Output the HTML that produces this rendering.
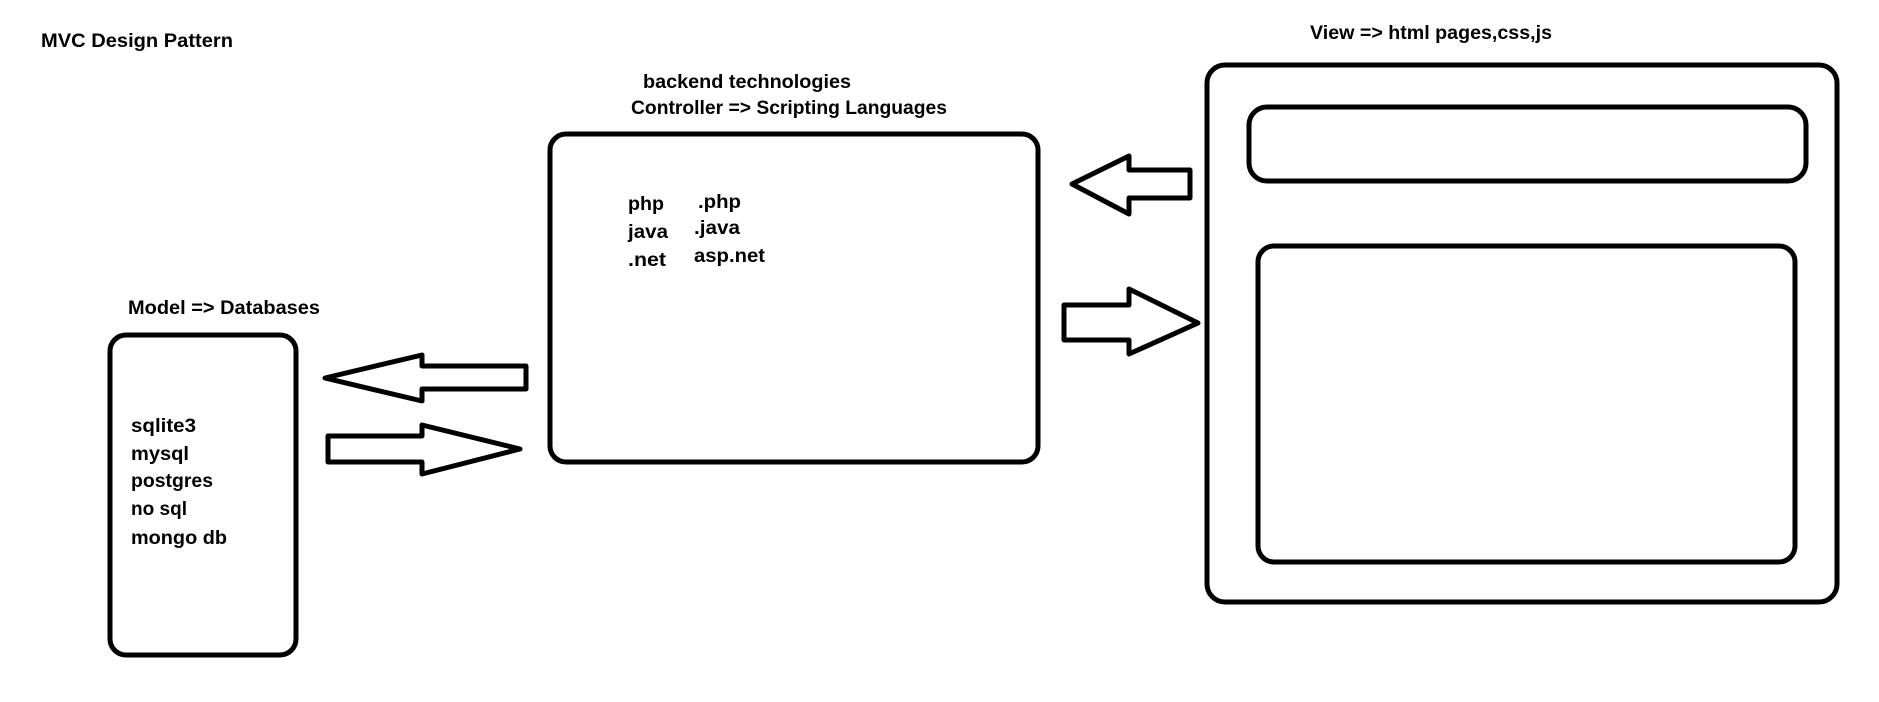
<!DOCTYPE html>
<html><head><meta charset="utf-8"><style>html,body{margin:0;padding:0;background:#fff}svg{display:block}</style></head>
<body>
<svg width="1879" height="702" viewBox="0 0 1879 702" xmlns="http://www.w3.org/2000/svg" font-family="Liberation Sans, sans-serif" font-weight="bold" font-size="19" fill="#000">
<g fill="none" stroke="#000" stroke-width="5" stroke-linejoin="round">
<rect x="1207" y="65" width="630" height="537" rx="18"/>
<rect x="1249" y="107" width="557" height="74" rx="18"/>
<rect x="1258" y="246" width="537" height="316" rx="16"/>
<rect x="550" y="134" width="488" height="328" rx="16"/>
<rect x="110" y="335" width="186" height="320" rx="16"/>
<polygon points="325,378 422,355 422,366 526,366 526,389 422,389 422,401"/>
<polygon points="328,436 422,436 422,425 520,449 422,474 422,462 328,462"/>
<polygon points="1072,184 1129,156 1129,170 1190,170 1190,198 1129,198 1129,214"/>
<polygon points="1064,305 1129,305 1129,289 1198,323 1129,354 1129,340 1064,340"/>
</g>
<text x="41" y="47" textLength="192" lengthAdjust="spacingAndGlyphs">MVC Design Pattern</text>
<text x="1310" y="39" textLength="242" lengthAdjust="spacingAndGlyphs">View =&gt; html pages,css,js</text>
<text x="643" y="88" textLength="208" lengthAdjust="spacingAndGlyphs">backend technologies</text>
<text x="631" y="114" textLength="316" lengthAdjust="spacingAndGlyphs">Controller =&gt; Scripting Languages</text>
<text x="128" y="314" textLength="192" lengthAdjust="spacingAndGlyphs">Model =&gt; Databases</text>
<text x="628" y="210" textLength="36" lengthAdjust="spacingAndGlyphs">php</text>
<text x="628" y="238" textLength="40" lengthAdjust="spacingAndGlyphs">java</text>
<text x="628" y="266" textLength="38" lengthAdjust="spacingAndGlyphs">.net</text>
<text x="698" y="208" textLength="43" lengthAdjust="spacingAndGlyphs">.php</text>
<text x="694" y="234" textLength="46" lengthAdjust="spacingAndGlyphs">.java</text>
<text x="694" y="262" textLength="71" lengthAdjust="spacingAndGlyphs">asp.net</text>
<text x="131" y="432" textLength="65" lengthAdjust="spacingAndGlyphs">sqlite3</text>
<text x="131" y="460" textLength="58" lengthAdjust="spacingAndGlyphs">mysql</text>
<text x="131" y="487" textLength="82" lengthAdjust="spacingAndGlyphs">postgres</text>
<text x="131" y="515" textLength="56" lengthAdjust="spacingAndGlyphs">no sql</text>
<text x="131" y="544" textLength="96" lengthAdjust="spacingAndGlyphs">mongo db</text>
</svg>
</body></html>
